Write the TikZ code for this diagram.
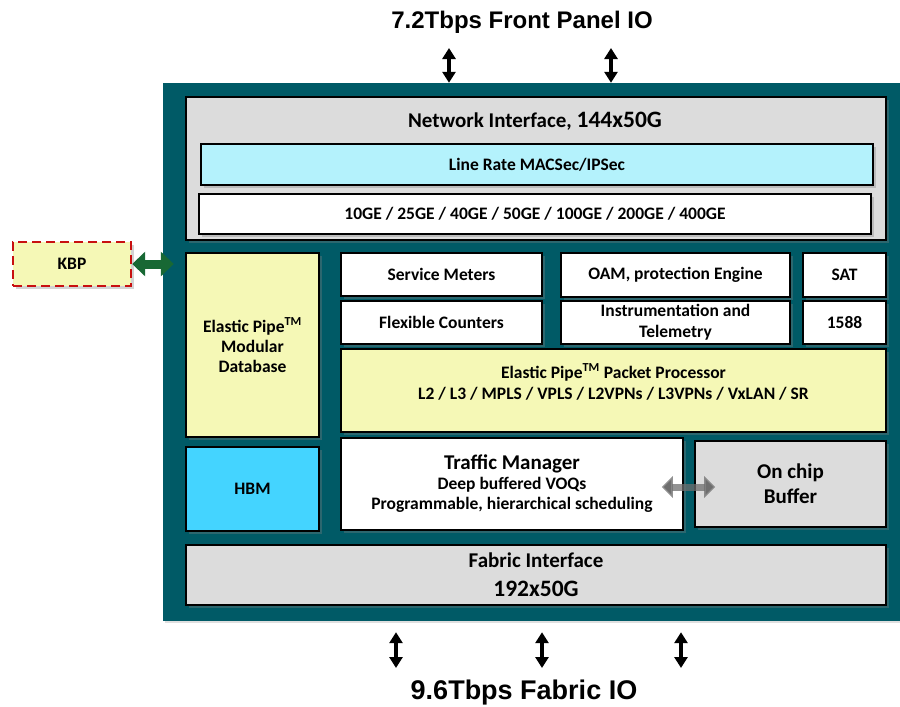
\documentclass[tikz,border=0pt]{standalone}
\usepackage{fontspec}
\setmainfont{Carlito}
\newfontfamily\titlefont{Liberation Sans}
\usepackage{tikz}
\usetikzlibrary{arrows.meta, positioning, shadows}

\definecolor{chipteal}{RGB}{0,90,102}
\definecolor{blockgray}{RGB}{220,220,220}
\definecolor{seccyan}{RGB}{180,242,252}
\definecolor{pipeyellow}{RGB}{245,248,182}
\definecolor{hbmblue}{RGB}{68,212,255}
\definecolor{kbpred}{RGB}{200,16,16}
\definecolor{kbpgreen}{RGB}{24,104,52}
\definecolor{bufgray}{RGB}{110,110,110}

\begin{document}
\begin{tikzpicture}[
		x=1pt, y=-1pt,
		block/.style={rectangle, draw=black, line width=1.6pt, inner sep=1pt, align=center,
				font=\bfseries\fontsize{17.5}{20}\selectfont,
				drop shadow={opacity=0.35, shadow xshift=2.5pt, shadow yshift=-2.5pt}},
		bigtext/.style={font=\bfseries\fontsize{21}{25}\selectfont},
		iotitle/.style={font=\titlefont\bfseries\fontsize{24}{28}\selectfont},
		ioarrow/.style={line width=3.2pt, {Triangle[length=11pt,width=13pt]}-{Triangle[length=11pt,width=13pt]}},
		kbparrow/.style={draw=kbpgreen, line width=9pt, {Triangle[length=13pt,width=24pt]}-{Triangle[length=13pt,width=24pt]}},
		bufarrow/.style={draw=bufgray, draw opacity=0.75, line width=7pt, {Triangle[length=11pt,width=21pt]}-{Triangle[length=11pt,width=21pt]}}
	]
	\useasboundingbox (0,0) rectangle (900,707);

	\node[rectangle, fill=chipteal, minimum width=737pt, minimum height=538pt,
		drop shadow={opacity=0.25, shadow xshift=2pt, shadow yshift=-2pt}] (chip) at (531.5,352) {};

	\node[block, fill=blockgray, minimum width=700pt, minimum height=143pt] (netif) at (536,168.5) {};
	\node[font=\bfseries\fontsize{21}{25}\selectfont] (netiflbl) at (535,121) {Network Interface, {\fontsize{23.5}{27}\selectfont 144x50G}};
	\node[block, fill=seccyan, minimum width=672pt, minimum height=41pt] (macsec) at (537,164.5) {Line Rate MACSec/IPSec};
	\node[block, fill=white, minimum width=672pt, minimum height=40pt] (ports) at (535,214) {10GE / 25GE / 40GE / 50GE / 100GE / 200GE / 400GE};

	\node[block, fill=pipeyellow, draw=kbpred, dash pattern=on 9pt off 5pt, line width=2.4pt,
		minimum width=118pt, minimum height=44pt] (kbp) at (72,264) {KBP};

	\node[block, fill=pipeyellow, minimum width=133pt, minimum height=184pt] (moddb) at (252.5,345)
		{Elastic Pipe\textsuperscript{TM}\\ Modular\\ Database};
	\node[block, fill=white, minimum width=201pt, minimum height=43pt] (meters) at (441.5,274.5) {Service Meters};
	\node[block, fill=white, minimum width=201pt, minimum height=43pt] (counters) at (441.5,322.5) {Flexible Counters};
	\node[block, fill=white, minimum width=229pt, minimum height=44pt] (oam) at (675.5,275) {OAM, protection Engine};
	\node[block, fill=white, minimum width=229pt, minimum height=43pt, font=\bfseries\fontsize{17.5}{21}\selectfont] (telemetry) at (675.5,322.5) {Instrumentation and\\ Telemetry};
	\node[block, fill=white, minimum width=83pt, minimum height=44pt] (sat) at (844.5,275) {SAT};
	\node[block, fill=white, minimum width=83pt, minimum height=43pt] (ptp) at (844.5,322.5) {1588};
	\node[block, fill=pipeyellow, minimum width=545pt, minimum height=83pt] (pktproc) at (613.5,390.5) {};
	\node[align=center, font=\bfseries\fontsize{17.5}{21}\selectfont] (pktlbl) at (613.5,382)
		{Elastic Pipe\textsuperscript{TM} Packet Processor\\ L2 / L3 / MPLS / VPLS / L2VPNs / L3VPNs / VxLAN / SR};

	\node[block, fill=hbmblue, minimum width=133pt, minimum height=84pt] (hbm) at (252.5,489) {HBM};
	\node[block, fill=white, minimum width=342pt, minimum height=92pt] (tm) at (512,484)
		{{\fontsize{21}{25}\selectfont Traffic Manager}\\ Deep buffered VOQs\\ Programmable, hierarchical scheduling};
	\node[block, bigtext, fill=blockgray, minimum width=191pt, minimum height=86pt] (ocb) at (790.5,484) {On chip\\ Buffer};
	\node[block, bigtext, fill=blockgray, minimum width=700pt, minimum height=60pt, font=\bfseries\fontsize{21}{29}\selectfont] (fabric) at (536,575)
		{Fabric Interface\\ {\fontsize{23.5}{27}\selectfont 192x50G}};

	\draw[kbparrow] (kbp.east) -- ([xshift=11pt]chip.west |- kbp.east);
	\draw[bufarrow] ([xshift=-22pt,yshift=-3pt]tm.east) -- ([xshift=21pt,yshift=-3pt]ocb.west);

	\node[iotitle] (fptitle) at (522,22) {7.2Tbps Front Panel IO};
	\node[iotitle, font=\titlefont\bfseries\fontsize{27}{31}\selectfont] (fabtitle) at (524,693) {9.6Tbps Fabric IO};

	\coordinate (fp1) at (449,48);
	\coordinate (fp2) at (611,48);
	\draw[ioarrow] (fp1) -- (fp1 |- chip.north);
	\draw[ioarrow] (fp2) -- (fp2 |- chip.north);

	\coordinate (fio1) at (396,668);
	\coordinate (fio2) at (542,668);
	\coordinate (fio3) at (681,668);
	\draw[ioarrow] ([yshift=-11pt]fio1 |- chip.south) -- (fio1);
	\draw[ioarrow] ([yshift=-11pt]fio2 |- chip.south) -- (fio2);
	\draw[ioarrow] ([yshift=-11pt]fio3 |- chip.south) -- (fio3);
\end{tikzpicture}
\end{document}
